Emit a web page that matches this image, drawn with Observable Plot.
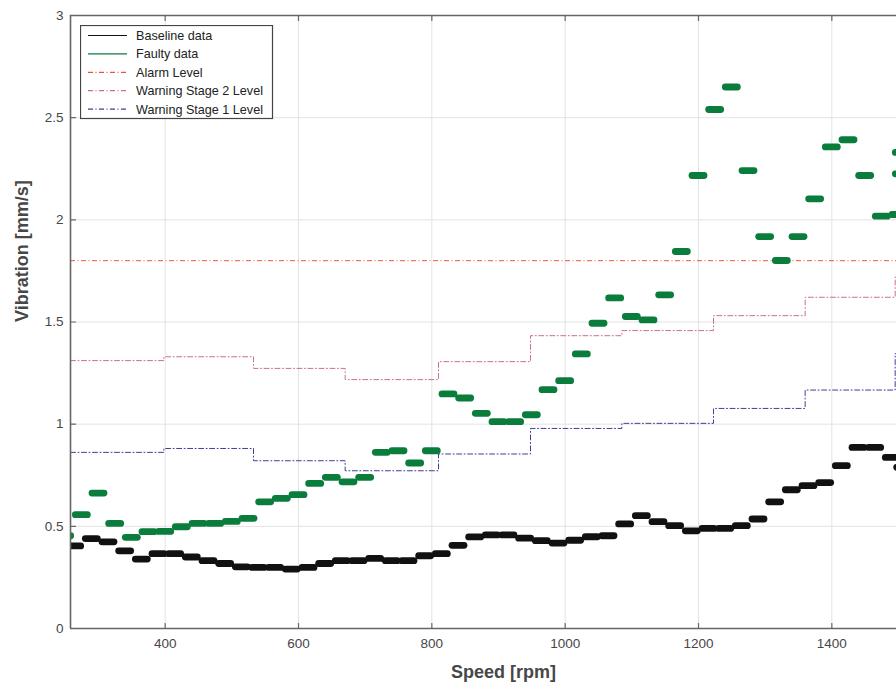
<!DOCTYPE html>
<html><head><meta charset="utf-8">
<script src="https://cdn.jsdelivr.net/npm/d3@7"></script>
<script src="https://cdn.jsdelivr.net/npm/@observablehq/plot@0.6"></script>
<style>
body{margin:0;background:#fff;font-family:"Liberation Sans",Arial,sans-serif;}
#wrap{position:relative;width:896px;height:693px;overflow:hidden;}
#legend{position:absolute;left:80px;top:25px;}
</style></head><body><div id="wrap"><div id="chart"></div><svg id="legend" width="194" height="95"></svg></div>
<script>
const xDomain = [258, 1497];
const yDomain = [0, 3];
const xTicks = [400, 600, 800, 1000, 1200, 1400];
const yTicks = [0, 0.5, 1, 1.5, 2, 2.5, 3];
const yTickLabels = ["0", "0.5", "1", "1.5", "2", "2.5", "3"];
const xLabel = "Speed [rpm]";
const yLabel = "Vibration [mm/s]";

const seriesNames = ["Baseline data", "Faulty data", "Alarm Level", "Warning Stage 2 Level", "Warning Stage 1 Level"];

const baselineSpeed = [265,290,315,340,365,390,415,440,465,490,515,540,565,590,615,640,665,690,715,740,765,790,815,840,865,890,915,940,965,990,1015,1040,1065,1090,1115,1140,1165,1190,1215,1240,1265,1290,1315,1340,1365,1390,1415,1440,1465,1490,1507];
const baselineVib = [0.404,0.440,0.424,0.380,0.340,0.366,0.366,0.350,0.332,0.318,0.302,0.299,0.299,0.291,0.299,0.318,0.332,0.332,0.343,0.332,0.332,0.356,0.366,0.407,0.448,0.458,0.458,0.442,0.430,0.418,0.432,0.449,0.454,0.512,0.552,0.523,0.503,0.478,0.490,0.490,0.503,0.536,0.620,0.679,0.699,0.714,0.797,0.886,0.886,0.837,0.789];

const faultySpeed = [250,275,300,325,350,375,400,425,450,475,500,525,550,575,600,625,650,675,700,725,750,775,800,825,850,875,900,925,950,975,1000,1025,1050,1075,1100,1125,1150,1175,1200,1225,1250,1275,1300,1325,1350,1375,1400,1425,1450,1475,1500,1505,1505];
const faultyVib = [0.454,0.557,0.663,0.514,0.446,0.474,0.475,0.498,0.514,0.514,0.524,0.539,0.620,0.637,0.655,0.710,0.740,0.718,0.740,0.862,0.870,0.810,0.870,1.148,1.128,1.053,1.012,1.012,1.046,1.169,1.213,1.344,1.494,1.618,1.527,1.510,1.633,1.845,2.217,2.540,2.650,2.241,1.918,1.801,1.918,2.103,2.357,2.392,2.217,2.018,2.026,2.330,2.225];

const stepSpeed = [258,398,532.5,670,810,948,1085,1222.5,1360,1495,1600];
const warning2 = [1.311,1.330,1.273,1.218,1.306,1.433,1.458,1.531,1.621,1.720,1.720];
const warning1 = [0.862,0.881,0.821,0.772,0.854,0.979,1.004,1.077,1.167,1.345,1.345];
const alarmLevel = [1.8];

const colors = {baseline: "#111111", faulty: "#0a7d3c", alarm: "#e2583f", w2: "#c9708f", w1: "#3f3f98", axis: "#666666", text: "#474747", grid: "#e3e3e3"};
const dashDot = "5,2.5,1,2.5";
const segHalf = 9;

const baseline = baselineSpeed.map((s, i) => ({s, v: baselineVib[i]}));
const faulty = faultySpeed.map((s, i) => ({s, v: faultyVib[i]}));
const w2 = stepSpeed.map((s, i) => ({s, v: warning2[i]}));
const w1 = stepSpeed.map((s, i) => ({s, v: warning1[i]}));

const tickShape = {draw(context, l) { context.moveTo(0, 0); context.lineTo(0, -l); }};

const chart = Plot.plot({
  width: 896, height: 693,
  marginLeft: 70, marginRight: 0, marginTop: 15, marginBottom: 65,
  style: {fontFamily: '"Liberation Sans", Arial, sans-serif', background: "#fff"},
  x: {domain: xDomain},
  y: {domain: yDomain},
  marks: [
    Plot.gridX(xTicks, {stroke: colors.grid, strokeOpacity: 1, strokeWidth: 1}),
    Plot.gridY(yTicks, {stroke: colors.grid, strokeOpacity: 1, strokeWidth: 1}),
    Plot.ruleY(alarmLevel, {stroke: colors.alarm, strokeWidth: 1, strokeDasharray: dashDot}),
    Plot.line(w2, {x: "s", y: "v", curve: "step-after", stroke: colors.w2, strokeWidth: 1, strokeDasharray: dashDot, clip: true}),
    Plot.line(w1, {x: "s", y: "v", curve: "step-after", stroke: colors.w1, strokeWidth: 1, strokeDasharray: dashDot, clip: true}),
    Plot.ruleY(baseline, {y: "v", x1: d => d.s - segHalf, x2: d => d.s + segHalf, stroke: colors.baseline, strokeWidth: 6.8, strokeLinecap: "round", clip: true}),
    Plot.ruleY(faulty, {y: "v", x1: d => d.s - segHalf, x2: d => d.s + segHalf, stroke: colors.faulty, strokeWidth: 6.8, strokeLinecap: "round", clip: true}),
    Plot.ruleX([xDomain[0]], {stroke: colors.axis, strokeWidth: 1.6}),
    Plot.ruleY([yDomain[0], yDomain[1]], {stroke: colors.axis, strokeWidth: 1.6}),
    Plot.vectorX(xTicks, {x: d => d, frameAnchor: "bottom", length: 5, rotate: 0, anchor: "start", shape: tickShape, stroke: colors.axis, strokeWidth: 1.2}),
    Plot.vectorX(xTicks, {x: d => d, frameAnchor: "top", length: 5, rotate: 180, anchor: "start", shape: tickShape, stroke: colors.axis, strokeWidth: 1.2}),
    Plot.vectorY(yTicks, {y: d => d, frameAnchor: "left", length: 5, rotate: 90, anchor: "start", shape: tickShape, stroke: colors.axis, strokeWidth: 1.2}),
    Plot.axisX(xTicks, {tickSize: 0, tickPadding: 10, fontSize: 13.5, fill: colors.text, label: null, tickFormat: d => String(d)}),
    Plot.axisY(yTicks, {tickSize: 0, tickPadding: 7, fontSize: 13.5, fill: colors.text, label: null, tickFormat: d => yTickLabels[yTicks.indexOf(d)]}),
    Plot.text([xLabel], {frameAnchor: "bottom", dx: 20, dy: 49, fontSize: 18, fontWeight: "bold", fill: colors.text}),
    Plot.text([yLabel], {frameAnchor: "left", dx: -48, rotate: -90, fontSize: 18, fontWeight: "bold", fill: colors.text})
  ]
});
document.getElementById("chart").append(chart);

// legend
const lg = d3.select("#legend");
lg.append("rect").attr("x", 0.5).attr("y", 0.5).attr("width", 192).attr("height", 93).attr("fill", "#fff").attr("stroke", "#444").attr("stroke-width", 1.2);
const legendStyles = [
  {stroke: colors.baseline, dash: null},
  {stroke: colors.faulty, dash: null},
  {stroke: colors.alarm, dash: dashDot},
  {stroke: colors.w2, dash: dashDot},
  {stroke: colors.w1, dash: dashDot}
];
seriesNames.forEach((name, i) => {
  const y = 10.5 + i * 18.4;
  lg.append("line").attr("x1", 8).attr("x2", 47).attr("y1", y).attr("y2", y)
    .attr("stroke", legendStyles[i].stroke).attr("stroke-width", 1.2)
    .attr("stroke-dasharray", legendStyles[i].dash);
  lg.append("text").attr("x", 56).attr("y", y).attr("dy", "0.35em")
    .attr("font-size", 12.6).attr("fill", "#222")
    .attr("font-family", '"Liberation Sans", Arial, sans-serif').text(name);
});
</script></body></html>
